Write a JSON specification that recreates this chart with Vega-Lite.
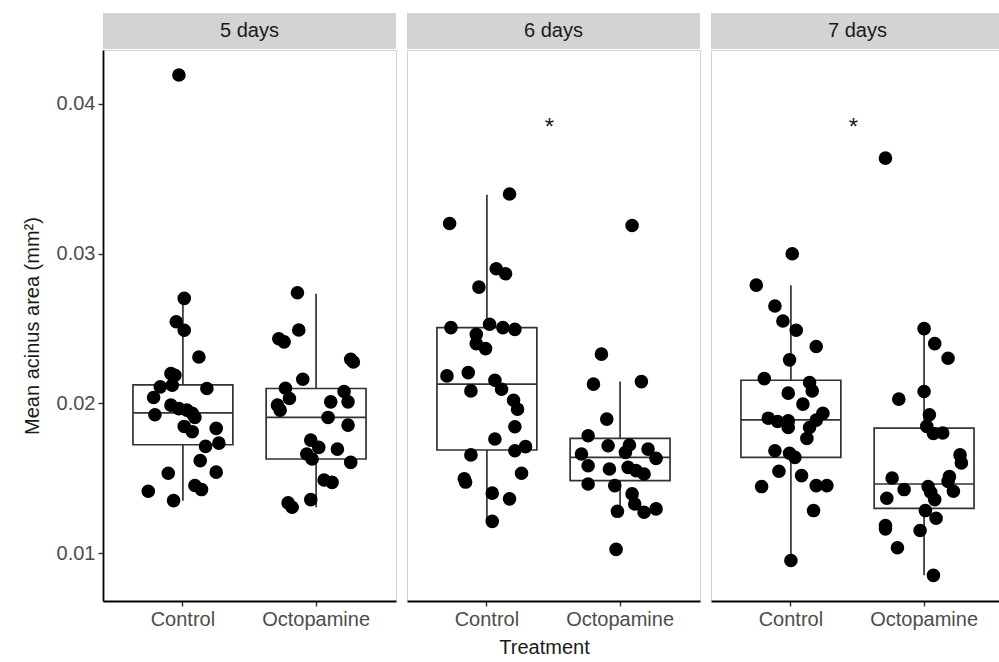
{
  "$schema": "https://vega.github.io/schema/vega-lite/v6.json",
  "background": "white",
  "padding": {"left": 21, "top": 13, "right": 0, "bottom": 0},
  "datasets": {
    "pts": [
      {"Day":"5 days","Treatment":"Control","area":0.02701,"jitter":0.01},
      {"Day":"5 days","Treatment":"Control","area":0.02545,"jitter":-0.05},
      {"Day":"5 days","Treatment":"Control","area":0.02488,"jitter":0.01},
      {"Day":"5 days","Treatment":"Control","area":0.02310,"jitter":0.12},
      {"Day":"5 days","Treatment":"Control","area":0.02199,"jitter":-0.09},
      {"Day":"5 days","Treatment":"Control","area":0.02188,"jitter":-0.06},
      {"Day":"5 days","Treatment":"Control","area":0.02111,"jitter":-0.17},
      {"Day":"5 days","Treatment":"Control","area":0.02122,"jitter":-0.08},
      {"Day":"5 days","Treatment":"Control","area":0.02100,"jitter":0.18},
      {"Day":"5 days","Treatment":"Control","area":0.02040,"jitter":-0.22},
      {"Day":"5 days","Treatment":"Control","area":0.01989,"jitter":-0.09},
      {"Day":"5 days","Treatment":"Control","area":0.01966,"jitter":-0.03},
      {"Day":"5 days","Treatment":"Control","area":0.01956,"jitter":0.03},
      {"Day":"5 days","Treatment":"Control","area":0.01925,"jitter":-0.21},
      {"Day":"5 days","Treatment":"Control","area":0.01934,"jitter":0.07},
      {"Day":"5 days","Treatment":"Control","area":0.01907,"jitter":0.09},
      {"Day":"5 days","Treatment":"Control","area":0.01847,"jitter":0.01},
      {"Day":"5 days","Treatment":"Control","area":0.01812,"jitter":0.07},
      {"Day":"5 days","Treatment":"Control","area":0.01834,"jitter":0.25},
      {"Day":"5 days","Treatment":"Control","area":0.01736,"jitter":0.27},
      {"Day":"5 days","Treatment":"Control","area":0.01714,"jitter":0.17},
      {"Day":"5 days","Treatment":"Control","area":0.01619,"jitter":0.13},
      {"Day":"5 days","Treatment":"Control","area":0.01535,"jitter":-0.11},
      {"Day":"5 days","Treatment":"Control","area":0.01542,"jitter":0.25},
      {"Day":"5 days","Treatment":"Control","area":0.01453,"jitter":0.09},
      {"Day":"5 days","Treatment":"Control","area":0.01426,"jitter":0.14},
      {"Day":"5 days","Treatment":"Control","area":0.01415,"jitter":-0.26},
      {"Day":"5 days","Treatment":"Control","area":0.01352,"jitter":-0.07},
      {"Day":"5 days","Treatment":"Control","area":0.04190,"jitter":-0.03},
      {"Day":"5 days","Treatment":"Octopamine","area":0.02738,"jitter":-0.14},
      {"Day":"5 days","Treatment":"Octopamine","area":0.02490,"jitter":-0.13},
      {"Day":"5 days","Treatment":"Octopamine","area":0.02432,"jitter":-0.28},
      {"Day":"5 days","Treatment":"Octopamine","area":0.02411,"jitter":-0.24},
      {"Day":"5 days","Treatment":"Octopamine","area":0.02295,"jitter":0.26},
      {"Day":"5 days","Treatment":"Octopamine","area":0.02277,"jitter":0.28},
      {"Day":"5 days","Treatment":"Octopamine","area":0.02162,"jitter":-0.10},
      {"Day":"5 days","Treatment":"Octopamine","area":0.02102,"jitter":-0.23},
      {"Day":"5 days","Treatment":"Octopamine","area":0.02080,"jitter":0.21},
      {"Day":"5 days","Treatment":"Octopamine","area":0.02033,"jitter":-0.20},
      {"Day":"5 days","Treatment":"Octopamine","area":0.02011,"jitter":0.11},
      {"Day":"5 days","Treatment":"Octopamine","area":0.02011,"jitter":0.24},
      {"Day":"5 days","Treatment":"Octopamine","area":0.01989,"jitter":-0.29},
      {"Day":"5 days","Treatment":"Octopamine","area":0.01956,"jitter":-0.27},
      {"Day":"5 days","Treatment":"Octopamine","area":0.01907,"jitter":0.09},
      {"Day":"5 days","Treatment":"Octopamine","area":0.01856,"jitter":0.24},
      {"Day":"5 days","Treatment":"Octopamine","area":0.01756,"jitter":-0.04},
      {"Day":"5 days","Treatment":"Octopamine","area":0.01707,"jitter":0.02},
      {"Day":"5 days","Treatment":"Octopamine","area":0.01696,"jitter":0.16},
      {"Day":"5 days","Treatment":"Octopamine","area":0.01663,"jitter":-0.07},
      {"Day":"5 days","Treatment":"Octopamine","area":0.01630,"jitter":-0.03},
      {"Day":"5 days","Treatment":"Octopamine","area":0.01607,"jitter":0.26},
      {"Day":"5 days","Treatment":"Octopamine","area":0.01490,"jitter":0.06},
      {"Day":"5 days","Treatment":"Octopamine","area":0.01474,"jitter":0.12},
      {"Day":"5 days","Treatment":"Octopamine","area":0.01359,"jitter":-0.04},
      {"Day":"5 days","Treatment":"Octopamine","area":0.01337,"jitter":-0.21},
      {"Day":"5 days","Treatment":"Octopamine","area":0.01308,"jitter":-0.18},
      {"Day":"6 days","Treatment":"Control","area":0.03397,"jitter":0.17},
      {"Day":"6 days","Treatment":"Control","area":0.03200,"jitter":-0.28},
      {"Day":"6 days","Treatment":"Control","area":0.02898,"jitter":0.07},
      {"Day":"6 days","Treatment":"Control","area":0.02865,"jitter":0.14},
      {"Day":"6 days","Treatment":"Control","area":0.02776,"jitter":-0.06},
      {"Day":"6 days","Treatment":"Control","area":0.02506,"jitter":-0.27},
      {"Day":"6 days","Treatment":"Control","area":0.02528,"jitter":0.02},
      {"Day":"6 days","Treatment":"Control","area":0.02506,"jitter":0.12},
      {"Day":"6 days","Treatment":"Control","area":0.02494,"jitter":0.21},
      {"Day":"6 days","Treatment":"Control","area":0.02461,"jitter":-0.08},
      {"Day":"6 days","Treatment":"Control","area":0.02399,"jitter":-0.08},
      {"Day":"6 days","Treatment":"Control","area":0.02366,"jitter":-0.01},
      {"Day":"6 days","Treatment":"Control","area":0.02184,"jitter":-0.30},
      {"Day":"6 days","Treatment":"Control","area":0.02206,"jitter":-0.14},
      {"Day":"6 days","Treatment":"Control","area":0.02084,"jitter":-0.12},
      {"Day":"6 days","Treatment":"Control","area":0.02155,"jitter":0.06},
      {"Day":"6 days","Treatment":"Control","area":0.02095,"jitter":0.11},
      {"Day":"6 days","Treatment":"Control","area":0.02022,"jitter":0.20},
      {"Day":"6 days","Treatment":"Control","area":0.01962,"jitter":0.23},
      {"Day":"6 days","Treatment":"Control","area":0.01845,"jitter":0.21},
      {"Day":"6 days","Treatment":"Control","area":0.01763,"jitter":0.06},
      {"Day":"6 days","Treatment":"Control","area":0.01657,"jitter":-0.12},
      {"Day":"6 days","Treatment":"Control","area":0.01685,"jitter":0.21},
      {"Day":"6 days","Treatment":"Control","area":0.01712,"jitter":0.29},
      {"Day":"6 days","Treatment":"Control","area":0.01535,"jitter":0.26},
      {"Day":"6 days","Treatment":"Control","area":0.01498,"jitter":-0.17},
      {"Day":"6 days","Treatment":"Control","area":0.01476,"jitter":-0.16},
      {"Day":"6 days","Treatment":"Control","area":0.01402,"jitter":0.04},
      {"Day":"6 days","Treatment":"Control","area":0.01364,"jitter":0.17},
      {"Day":"6 days","Treatment":"Control","area":0.01214,"jitter":0.04},
      {"Day":"6 days","Treatment":"Octopamine","area":0.03187,"jitter":0.09},
      {"Day":"6 days","Treatment":"Octopamine","area":0.02329,"jitter":-0.14},
      {"Day":"6 days","Treatment":"Octopamine","area":0.02129,"jitter":-0.20},
      {"Day":"6 days","Treatment":"Octopamine","area":0.02146,"jitter":0.16},
      {"Day":"6 days","Treatment":"Octopamine","area":0.01896,"jitter":-0.10},
      {"Day":"6 days","Treatment":"Octopamine","area":0.01785,"jitter":-0.24},
      {"Day":"6 days","Treatment":"Octopamine","area":0.01718,"jitter":-0.09},
      {"Day":"6 days","Treatment":"Octopamine","area":0.01723,"jitter":0.07},
      {"Day":"6 days","Treatment":"Octopamine","area":0.01696,"jitter":0.21},
      {"Day":"6 days","Treatment":"Octopamine","area":0.01663,"jitter":-0.29},
      {"Day":"6 days","Treatment":"Octopamine","area":0.01674,"jitter":0.04},
      {"Day":"6 days","Treatment":"Octopamine","area":0.01634,"jitter":0.27},
      {"Day":"6 days","Treatment":"Octopamine","area":0.01585,"jitter":-0.24},
      {"Day":"6 days","Treatment":"Octopamine","area":0.01563,"jitter":-0.08},
      {"Day":"6 days","Treatment":"Octopamine","area":0.01574,"jitter":0.06},
      {"Day":"6 days","Treatment":"Octopamine","area":0.01552,"jitter":0.12},
      {"Day":"6 days","Treatment":"Octopamine","area":0.01530,"jitter":0.18},
      {"Day":"6 days","Treatment":"Octopamine","area":0.01463,"jitter":-0.24},
      {"Day":"6 days","Treatment":"Octopamine","area":0.01452,"jitter":-0.04},
      {"Day":"6 days","Treatment":"Octopamine","area":0.01397,"jitter":0.09},
      {"Day":"6 days","Treatment":"Octopamine","area":0.01330,"jitter":0.11},
      {"Day":"6 days","Treatment":"Octopamine","area":0.01281,"jitter":-0.02},
      {"Day":"6 days","Treatment":"Octopamine","area":0.01275,"jitter":0.18},
      {"Day":"6 days","Treatment":"Octopamine","area":0.01297,"jitter":0.27},
      {"Day":"6 days","Treatment":"Octopamine","area":0.01027,"jitter":-0.03},
      {"Day":"7 days","Treatment":"Control","area":0.02998,"jitter":0.01},
      {"Day":"7 days","Treatment":"Control","area":0.02789,"jitter":-0.26},
      {"Day":"7 days","Treatment":"Control","area":0.02650,"jitter":-0.12},
      {"Day":"7 days","Treatment":"Control","area":0.02550,"jitter":-0.06},
      {"Day":"7 days","Treatment":"Control","area":0.02488,"jitter":0.04},
      {"Day":"7 days","Treatment":"Control","area":0.02380,"jitter":0.19},
      {"Day":"7 days","Treatment":"Control","area":0.02291,"jitter":-0.01},
      {"Day":"7 days","Treatment":"Control","area":0.02166,"jitter":-0.20},
      {"Day":"7 days","Treatment":"Control","area":0.02140,"jitter":0.14},
      {"Day":"7 days","Treatment":"Control","area":0.02084,"jitter":0.16},
      {"Day":"7 days","Treatment":"Control","area":0.02069,"jitter":-0.02},
      {"Day":"7 days","Treatment":"Control","area":0.01996,"jitter":0.09},
      {"Day":"7 days","Treatment":"Control","area":0.01902,"jitter":-0.17},
      {"Day":"7 days","Treatment":"Control","area":0.01880,"jitter":-0.10},
      {"Day":"7 days","Treatment":"Control","area":0.01884,"jitter":-0.02},
      {"Day":"7 days","Treatment":"Control","area":0.01840,"jitter":-0.02},
      {"Day":"7 days","Treatment":"Control","area":0.01934,"jitter":0.24},
      {"Day":"7 days","Treatment":"Control","area":0.01889,"jitter":0.19},
      {"Day":"7 days","Treatment":"Control","area":0.01840,"jitter":0.14},
      {"Day":"7 days","Treatment":"Control","area":0.01767,"jitter":0.12},
      {"Day":"7 days","Treatment":"Control","area":0.01685,"jitter":-0.12},
      {"Day":"7 days","Treatment":"Control","area":0.01668,"jitter":-0.01},
      {"Day":"7 days","Treatment":"Control","area":0.01641,"jitter":0.03},
      {"Day":"7 days","Treatment":"Control","area":0.01548,"jitter":-0.09},
      {"Day":"7 days","Treatment":"Control","area":0.01519,"jitter":0.08},
      {"Day":"7 days","Treatment":"Control","area":0.01446,"jitter":-0.22},
      {"Day":"7 days","Treatment":"Control","area":0.01452,"jitter":0.19},
      {"Day":"7 days","Treatment":"Control","area":0.01452,"jitter":0.27},
      {"Day":"7 days","Treatment":"Control","area":0.01286,"jitter":0.17},
      {"Day":"7 days","Treatment":"Control","area":0.00953,"jitter":0.00},
      {"Day":"7 days","Treatment":"Octopamine","area":0.03636,"jitter":-0.29},
      {"Day":"7 days","Treatment":"Octopamine","area":0.02499,"jitter":0.00},
      {"Day":"7 days","Treatment":"Octopamine","area":0.02399,"jitter":0.08},
      {"Day":"7 days","Treatment":"Octopamine","area":0.02302,"jitter":0.18},
      {"Day":"7 days","Treatment":"Octopamine","area":0.02080,"jitter":0.00},
      {"Day":"7 days","Treatment":"Octopamine","area":0.02029,"jitter":-0.19},
      {"Day":"7 days","Treatment":"Octopamine","area":0.01925,"jitter":0.04},
      {"Day":"7 days","Treatment":"Octopamine","area":0.01847,"jitter":0.02},
      {"Day":"7 days","Treatment":"Octopamine","area":0.01800,"jitter":0.07},
      {"Day":"7 days","Treatment":"Octopamine","area":0.01803,"jitter":0.14},
      {"Day":"7 days","Treatment":"Octopamine","area":0.01657,"jitter":0.27},
      {"Day":"7 days","Treatment":"Octopamine","area":0.01604,"jitter":0.28},
      {"Day":"7 days","Treatment":"Octopamine","area":0.01503,"jitter":-0.24},
      {"Day":"7 days","Treatment":"Octopamine","area":0.01512,"jitter":0.19},
      {"Day":"7 days","Treatment":"Octopamine","area":0.01481,"jitter":0.18},
      {"Day":"7 days","Treatment":"Octopamine","area":0.01426,"jitter":-0.15},
      {"Day":"7 days","Treatment":"Octopamine","area":0.01446,"jitter":0.03},
      {"Day":"7 days","Treatment":"Octopamine","area":0.01408,"jitter":0.05},
      {"Day":"7 days","Treatment":"Octopamine","area":0.01368,"jitter":-0.28},
      {"Day":"7 days","Treatment":"Octopamine","area":0.01415,"jitter":0.22},
      {"Day":"7 days","Treatment":"Octopamine","area":0.01359,"jitter":0.08},
      {"Day":"7 days","Treatment":"Octopamine","area":0.01286,"jitter":0.01},
      {"Day":"7 days","Treatment":"Octopamine","area":0.01235,"jitter":0.09},
      {"Day":"7 days","Treatment":"Octopamine","area":0.01186,"jitter":-0.29},
      {"Day":"7 days","Treatment":"Octopamine","area":0.01164,"jitter":-0.29},
      {"Day":"7 days","Treatment":"Octopamine","area":0.01153,"jitter":-0.03},
      {"Day":"7 days","Treatment":"Octopamine","area":0.01038,"jitter":-0.20},
      {"Day":"7 days","Treatment":"Octopamine","area":0.00854,"jitter":0.07}
    ],
    "box": [
      {"Day":"5 days","Treatment":"Control","lower":0.01352,"q1":0.01725,"median":0.01938,"q3":0.02124,"upper":0.02703},
      {"Day":"5 days","Treatment":"Octopamine","lower":0.01308,"q1":0.01630,"median":0.01907,"q3":0.02100,"upper":0.02731},
      {"Day":"6 days","Treatment":"Control","lower":0.01214,"q1":0.01690,"median":0.02129,"q3":0.02506,"upper":0.03392},
      {"Day":"6 days","Treatment":"Octopamine","lower":0.01286,"q1":0.01486,"median":0.01641,"q3":0.01767,"upper":0.02146},
      {"Day":"7 days","Treatment":"Control","lower":0.00953,"q1":0.01641,"median":0.01891,"q3":0.02155,"upper":0.02789},
      {"Day":"7 days","Treatment":"Octopamine","lower":0.00854,"q1":0.01301,"median":0.01463,"q3":0.01836,"upper":0.02499}
    ],
    "strip": [
      {"Day":"5 days"},
      {"Day":"6 days"},
      {"Day":"7 days"}
    ],
    "ann": [
      {"Day":"6 days","label":"*","y":0.0386},
      {"Day":"7 days","label":"*","y":0.0386}
    ]
  },
  "spacing": 9,
  "hconcat": [
    {
      "spacing": 0,
      "vconcat": [
        {
          "width": 293, "height": 36,
          "view": {"fill": "#D3D3D3", "stroke": null},
          "data": {"name": "strip"},
          "transform": [{"filter": "datum.Day === '5 days'"}],
          "mark": {"type": "text", "fontSize": 20, "color": "#1A1A1A", "baseline": "middle"},
          "encoding": {"text": {"field": "Day", "type": "nominal"}}
        },
        {
          "width": 293, "height": 551,
          "view": {"stroke": "#D3D3D3"},
          "layer": [
            {
              "data": {"name": "box"},
              "transform": [{"filter": "datum.Day === '5 days'"}],
              "mark": {"type": "rule", "color": "#333333", "strokeWidth": 1.7},
              "encoding": {
                "x": {"field": "Treatment", "type": "nominal", "scale": {"paddingInner": 0.25, "paddingOuter": 0.225},
                      "axis": {"title": null, "labelAngle": 0}},
                "y": {"field": "lower", "type": "quantitative", "scale": {"domain": [0.00683, 0.04357], "nice": false, "zero": false},
                      "axis": {"title": "Mean acinus area (mm²)", "values": [0.01, 0.02, 0.03, 0.04], "format": ".2f", "grid": false, "titlePadding": 14}},
                "y2": {"field": "upper"}
              }
            },
            {
              "data": {"name": "box"},
              "transform": [{"filter": "datum.Day === '5 days'"}],
              "mark": {"type": "bar", "fill": "white", "stroke": "#333333", "strokeWidth": 1.7, "width": 99.9},
              "encoding": {
                "x": {"field": "Treatment", "type": "nominal"},
                "y": {"field": "q1", "type": "quantitative"},
                "y2": {"field": "q3"}
              }
            },
            {
              "data": {"name": "box"},
              "transform": [{"filter": "datum.Day === '5 days'"}],
              "mark": {"type": "bar", "fill": null, "stroke": "#333333", "strokeWidth": 1.7, "width": 99.9},
              "encoding": {
                "x": {"field": "Treatment", "type": "nominal"},
                "y": {"field": "median", "type": "quantitative"},
                "y2": {"field": "median"}
              }
            },
            {
              "data": {"name": "pts"},
              "transform": [{"filter": "datum.Day === '5 days'"}],
              "mark": {"type": "circle", "size": 185, "opacity": 1, "color": "black"},
              "encoding": {
                "x": {"field": "Treatment", "type": "nominal"},
                "xOffset": {"field": "jitter", "type": "quantitative", "scale": {"domain": [-0.375, 0.375]}},
                "y": {"field": "area", "type": "quantitative"}
              }
            }
          ]
        }
      ]
    },
    {
      "spacing": 0,
      "vconcat": [
        {
          "width": 293, "height": 36,
          "view": {"fill": "#D3D3D3", "stroke": null},
          "data": {"name": "strip"},
          "transform": [{"filter": "datum.Day === '6 days'"}],
          "mark": {"type": "text", "fontSize": 20, "color": "#1A1A1A", "baseline": "middle"},
          "encoding": {"text": {"field": "Day", "type": "nominal"}}
        },
        {
          "width": 293, "height": 551,
          "view": {"stroke": "#D3D3D3"},
          "layer": [
            {
              "data": {"name": "box"},
              "transform": [{"filter": "datum.Day === '6 days'"}],
              "mark": {"type": "rule", "color": "#333333", "strokeWidth": 1.7},
              "encoding": {
                "x": {"field": "Treatment", "type": "nominal", "scale": {"paddingInner": 0.25, "paddingOuter": 0.225},
                      "axis": {"title": "Treatment", "labelAngle": 0, "titleX": 137}},
                "y": {"field": "lower", "type": "quantitative", "scale": {"domain": [0.00683, 0.04357], "nice": false, "zero": false}, "axis": null},
                "y2": {"field": "upper"}
              }
            },
            {
              "data": {"name": "box"},
              "transform": [{"filter": "datum.Day === '6 days'"}],
              "mark": {"type": "bar", "fill": "white", "stroke": "#333333", "strokeWidth": 1.7, "width": 99.9},
              "encoding": {
                "x": {"field": "Treatment", "type": "nominal"},
                "y": {"field": "q1", "type": "quantitative"},
                "y2": {"field": "q3"}
              }
            },
            {
              "data": {"name": "box"},
              "transform": [{"filter": "datum.Day === '6 days'"}],
              "mark": {"type": "bar", "fill": null, "stroke": "#333333", "strokeWidth": 1.7, "width": 99.9},
              "encoding": {
                "x": {"field": "Treatment", "type": "nominal"},
                "y": {"field": "median", "type": "quantitative"},
                "y2": {"field": "median"}
              }
            },
            {
              "data": {"name": "pts"},
              "transform": [{"filter": "datum.Day === '6 days'"}],
              "mark": {"type": "circle", "size": 185, "opacity": 1, "color": "black"},
              "encoding": {
                "x": {"field": "Treatment", "type": "nominal"},
                "xOffset": {"field": "jitter", "type": "quantitative", "scale": {"domain": [-0.375, 0.375]}},
                "y": {"field": "area", "type": "quantitative"}
              }
            },
            {
              "data": {"name": "ann"},
              "transform": [{"filter": "datum.Day === '6 days'"}],
              "mark": {"type": "text", "fontSize": 24, "color": "#1A1A1A", "baseline": "middle", "dx": -4, "dy": 3},
              "encoding": {
                "y": {"field": "y", "type": "quantitative"},
                "text": {"field": "label"}
              }
            }
          ]
        }
      ]
    },
    {
      "spacing": 0,
      "vconcat": [
        {
          "width": 293, "height": 36,
          "view": {"fill": "#D3D3D3", "stroke": null},
          "data": {"name": "strip"},
          "transform": [{"filter": "datum.Day === '7 days'"}],
          "mark": {"type": "text", "fontSize": 20, "color": "#1A1A1A", "baseline": "middle"},
          "encoding": {"text": {"field": "Day", "type": "nominal"}}
        },
        {
          "width": 293, "height": 551,
          "view": {"stroke": "#D3D3D3"},
          "layer": [
            {
              "data": {"name": "box"},
              "transform": [{"filter": "datum.Day === '7 days'"}],
              "mark": {"type": "rule", "color": "#333333", "strokeWidth": 1.7},
              "encoding": {
                "x": {"field": "Treatment", "type": "nominal", "scale": {"paddingInner": 0.25, "paddingOuter": 0.225},
                      "axis": {"title": null, "labelAngle": 0}},
                "y": {"field": "lower", "type": "quantitative", "scale": {"domain": [0.00683, 0.04357], "nice": false, "zero": false}, "axis": null},
                "y2": {"field": "upper"}
              }
            },
            {
              "data": {"name": "box"},
              "transform": [{"filter": "datum.Day === '7 days'"}],
              "mark": {"type": "bar", "fill": "white", "stroke": "#333333", "strokeWidth": 1.7, "width": 99.9},
              "encoding": {
                "x": {"field": "Treatment", "type": "nominal"},
                "y": {"field": "q1", "type": "quantitative"},
                "y2": {"field": "q3"}
              }
            },
            {
              "data": {"name": "box"},
              "transform": [{"filter": "datum.Day === '7 days'"}],
              "mark": {"type": "bar", "fill": null, "stroke": "#333333", "strokeWidth": 1.7, "width": 99.9},
              "encoding": {
                "x": {"field": "Treatment", "type": "nominal"},
                "y": {"field": "median", "type": "quantitative"},
                "y2": {"field": "median"}
              }
            },
            {
              "data": {"name": "pts"},
              "transform": [{"filter": "datum.Day === '7 days'"}],
              "mark": {"type": "circle", "size": 185, "opacity": 1, "color": "black"},
              "encoding": {
                "x": {"field": "Treatment", "type": "nominal"},
                "xOffset": {"field": "jitter", "type": "quantitative", "scale": {"domain": [-0.375, 0.375]}},
                "y": {"field": "area", "type": "quantitative"}
              }
            },
            {
              "data": {"name": "ann"},
              "transform": [{"filter": "datum.Day === '7 days'"}],
              "mark": {"type": "text", "fontSize": 24, "color": "#1A1A1A", "baseline": "middle", "dx": -4, "dy": 3},
              "encoding": {
                "y": {"field": "y", "type": "quantitative"},
                "text": {"field": "label"}
              }
            }
          ]
        }
      ]
    }
  ],
  "config": {
    "font": "Liberation Sans",
    "axis": {
      "domainColor": "black",
      "domainWidth": 1.8,
      "tickColor": "#333333",
      "tickWidth": 1.4,
      "tickSize": 5,
      "labelFontSize": 20,
      "labelColor": "#4D4D4D",
      "labelPadding": 3,
      "titleFontSize": 20,
      "titleFontWeight": "normal",
      "titleColor": "#1A1A1A",
      "grid": false
    },
    "axisX": {"titlePadding": 8},
    "view": {"stroke": "#D3D3D3"}
  }
}
